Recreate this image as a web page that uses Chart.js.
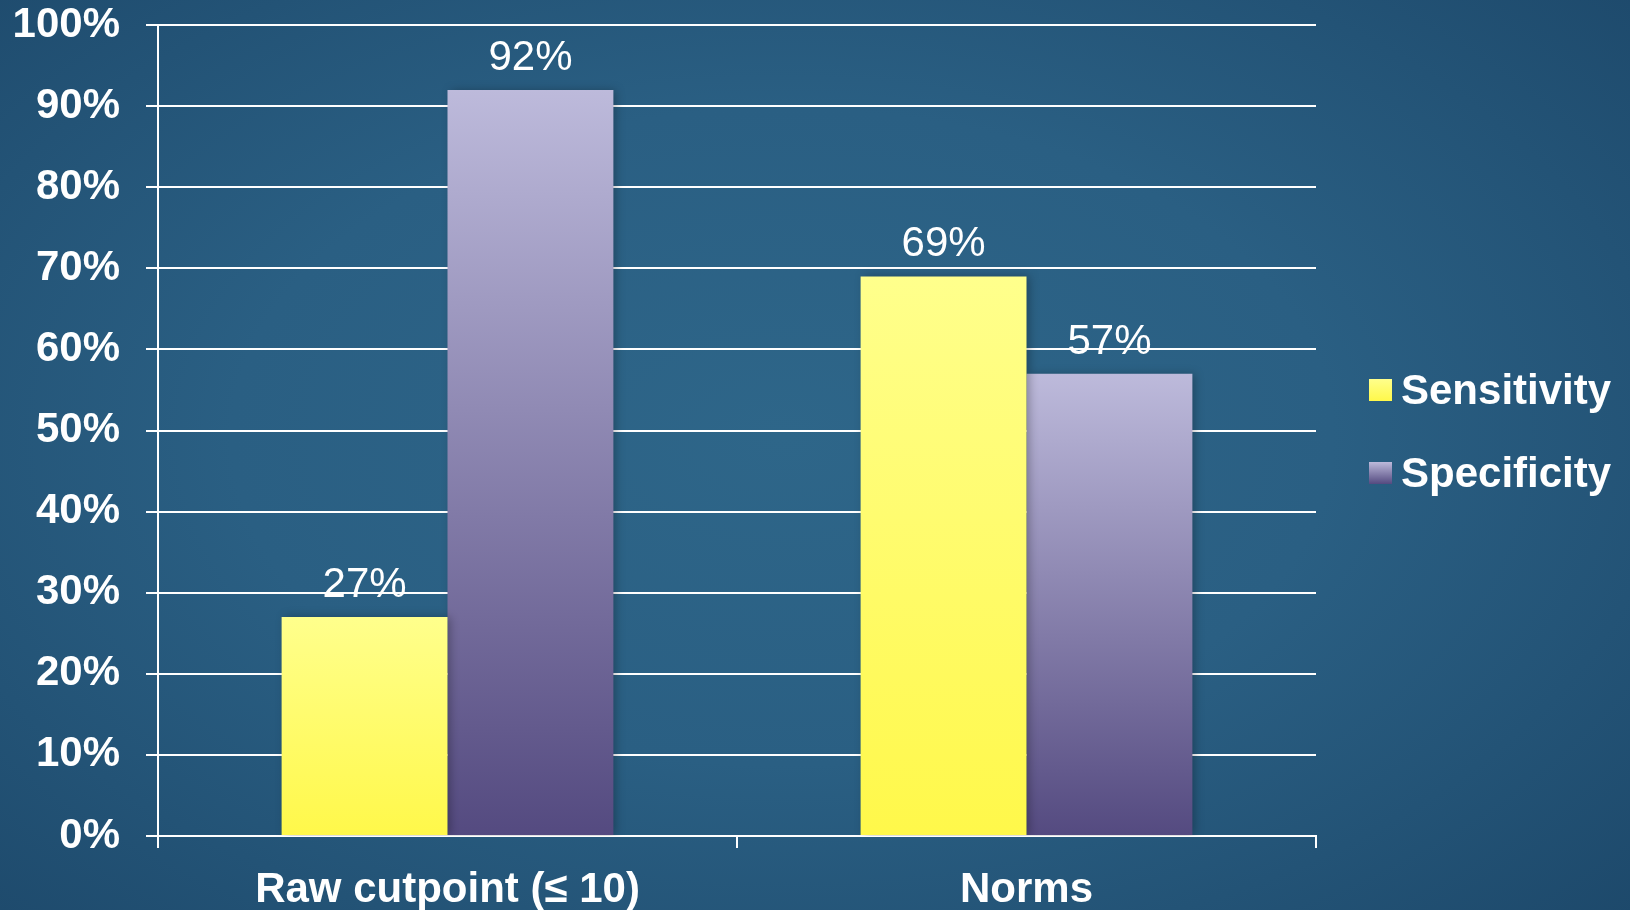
<!DOCTYPE html>
<html lang="en">
<head>
<meta charset="UTF-8">
<title>Sensitivity and Specificity</title>
<script src="https://cdn.jsdelivr.net/npm/chart.js"></script>
<style>
  html, body { margin: 0; padding: 0; }
  body {
    width: 1630px; height: 910px; overflow: hidden;
    background: radial-gradient(ellipse 75% 80% at 48% 48%, #2e6689 0%, #2a5f83 45%, #1c4769 100%);
  }
  .chart-container { position: relative; width: 1630px; height: 910px; }
</style>
</head>
<body>
<div class="chart-container"><canvas id="accuracyChart"></canvas></div>

<script>
// chart data
const categories = ['Raw cutpoint (\u2264 10)', 'Norms'];
const seriesNames = ['Sensitivity', 'Specificity'];
const sensitivity = [27, 69];
const specificity = [92, 57];

// gradient stops per series: top of bar, bottom of bar
const yellowStops = ['#ffff8c', '#fff84a'];
const purpleStops = ['#bdbadb', '#544a80'];

const FONT = '"Liberation Sans", Helvetica, Arial, sans-serif';
Chart.defaults.font.family = FONT;
Chart.defaults.color = '#ffffff';

// vertical gradient running from each bar's top down to the baseline
function barGradient(stops) {
    return function (context) {
        const chart = context.chart;
        const { ctx, chartArea, scales } = chart;
        if (!chartArea || context.type !== 'data') return stops[1];
        const y0 = scales.y.getPixelForValue(0);
        const y1 = scales.y.getPixelForValue(context.parsed.y);
        const g = ctx.createLinearGradient(0, y1, 0, y0);
        g.addColorStop(0, stops[0]);
        g.addColorStop(1, stops[1]);
        return g;
    };
}

// soft drop shadow behind the bars
const barShadow = {
    id: 'barShadow',
    beforeDatasetsDraw(chart) {
        const c = chart.ctx;
        c.save();
        c.shadowColor = 'rgba(0, 0, 0, 0.28)';
        c.shadowBlur = 9;
        c.shadowOffsetX = 3;
        c.shadowOffsetY = 0;
    },
    afterDatasetsDraw(chart) {
        chart.ctx.restore();
    }
};

// percentage printed above each bar
const valueLabels = {
    id: 'valueLabels',
    afterDatasetsDraw(chart) {
        const c = chart.ctx;
        c.save();
        c.font = 'normal 42px ' + FONT;
        c.fillStyle = '#ffffff';
        c.textAlign = 'center';
        c.textBaseline = 'alphabetic';
        chart.data.datasets.forEach((ds, i) => {
            chart.getDatasetMeta(i).data.forEach((bar, j) => {
                c.fillText(ds.data[j] + '%', bar.x, bar.y - 20);
            });
        });
        c.restore();
    }
};

// legend at the right with gradient swatches
const sideLegend = {
    id: 'sideLegend',
    afterDraw(chart) {
        const c = chart.ctx;
        const area = chart.chartArea;
        const x = area.right + 53;
        const mid = (area.top + area.bottom) / 2;
        const rowGap = 83;
        const box = 22;
        c.save();
        c.font = 'bold 42px ' + FONT;
        c.textBaseline = 'middle';
        c.textAlign = 'left';
        chart.data.datasets.forEach((ds, i) => {
            const cy = mid + 1 + (i - (chart.data.datasets.length - 1) / 2) * rowGap;
            const g = c.createLinearGradient(0, cy - box / 2, 0, cy + box / 2);
            g.addColorStop(0, ds.stops[0]);
            g.addColorStop(1, ds.stops[1]);
            c.fillStyle = g;
            c.fillRect(x, cy - box / 2, box + 1, box);
            c.fillStyle = '#ffffff';
            c.fillText(ds.label, x + box + 10, cy + 2);
        });
        c.restore();
    }
};

new Chart(document.getElementById('accuracyChart'), {
    type: 'bar',
    data: {
        labels: categories,
        datasets: [
            {
                label: seriesNames[0],
                data: sensitivity,
                stops: yellowStops,
                backgroundColor: barGradient(yellowStops),
                categoryPercentage: 0.573,
                barPercentage: 1
            },
            {
                label: seriesNames[1],
                data: specificity,
                stops: purpleStops,
                backgroundColor: barGradient(purpleStops),
                categoryPercentage: 0.573,
                barPercentage: 1
            }
        ]
    },
    options: {
        responsive: true,
        maintainAspectRatio: false,
        animation: false,
        layout: { padding: { top: 0, right: 314, bottom: 0, left: 0 } },
        plugins: {
            legend: { display: false },
            tooltip: { enabled: false }
        },
        scales: {
            x: {
                afterFit: s => { s.height = 74; },
                grid: {
                    drawOnChartArea: false,
                    color: '#ffffff',
                    lineWidth: 2,
                    tickLength: 12
                },
                border: { color: '#ffffff', width: 2 },
                ticks: {
                    color: '#ffffff',
                    font: { size: 42, weight: 'bold' },
                    padding: 17,
                    maxRotation: 0
                }
            },
            y: {
                min: 0,
                max: 100,
                afterFit: s => {
                    s.width = 158;
                    s.paddingTop = 25;
                    s.paddingBottom = 0;
                },
                grid: {
                    color: '#ffffff',
                    lineWidth: 2,
                    tickLength: 12
                },
                border: { color: '#ffffff', width: 2 },
                ticks: {
                    stepSize: 10,
                    color: '#ffffff',
                    font: { size: 42, weight: 'bold' },
                    padding: 26,
                    callback: v => v + '%'
                }
            }
        }
    },
    plugins: [barShadow, valueLabels, sideLegend]
});
</script>
</body>
</html>
